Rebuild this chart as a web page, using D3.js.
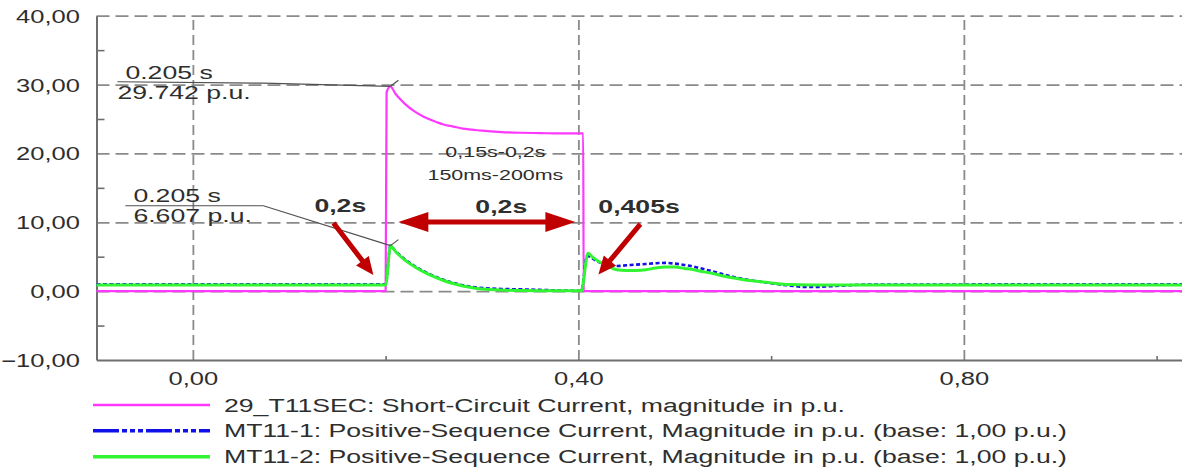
<!DOCTYPE html>
<html>
<head>
<meta charset="utf-8">
<script src="https://cdn.jsdelivr.net/npm/d3@7"></script>
<style>
  html, body { margin: 0; padding: 0; background: #fff; }
  svg { display: block; }
</style>
</head>
<body>
<svg id="chart" width="1182" height="469"></svg>
<script>
// ---- data -------------------------------------------------------------
const scPeak = { t: 0.205, v: 29.742 };
const mtPeak = { t: 0.205, v: 6.607 };

// 29_T11SEC short-circuit current magnitude (p.u.)
const timeSC = [-0.1, 0.2, 0.201, scPeak.t, 0.21, 0.215, 0.22, 0.23, 0.24, 0.25, 0.26, 0.27,
  0.28, 0.29, 0.30, 0.32, 0.34, 0.36, 0.38, 0.405, 0.4055, 1.03];
const shortCircuit = [0, 0, 28.9, scPeak.v, 28.7, 27.9, 27.2, 26.1, 25.3, 24.7, 24.2, 23.9,
  23.6, 23.45, 23.3, 23.1, 23.0, 22.95, 22.9, 22.9, 0, 0];

// MT11-1 positive-sequence current (p.u.)
const timeMT1 = [-0.1, 0.2, mtPeak.t, 0.21, 0.215, 0.22, 0.23, 0.24, 0.25, 0.26, 0.27, 0.28,
  0.29, 0.30, 0.32, 0.34, 0.36, 0.38, 0.40, 0.403, 0.409, 0.42, 0.43, 0.44, 0.45, 0.46, 0.47,
  0.48, 0.49, 0.50, 0.51, 0.52, 0.53, 0.54, 0.55, 0.56, 0.57, 0.58, 0.59, 0.60, 0.61, 0.62,
  0.63, 0.64, 0.65, 0.66, 0.68, 0.70, 1.03];
const mt11_1 = [1.0, 1.0, mtPeak.v, 5.85, 5.2, 4.6, 3.65, 2.85, 2.2, 1.65, 1.2, 0.85,
  0.6, 0.45, 0.32, 0.26, 0.18, 0.1, 0.05, 0.05, 5.1, 4.3, 3.8, 3.65, 3.75, 3.85, 3.95,
  4.05, 4.1, 4.0, 3.8, 3.55, 3.2, 2.85, 2.45, 2.1, 1.8, 1.55, 1.35, 1.15, 0.95, 0.8,
  0.65, 0.6, 0.62, 0.7, 0.85, 0.95, 1.0];

// MT11-2 positive-sequence current (p.u.)
const timeMT2 = [-0.1, 0.2, mtPeak.t, 0.21, 0.215, 0.22, 0.23, 0.24, 0.25, 0.26, 0.27, 0.28,
  0.29, 0.30, 0.32, 0.34, 0.36, 0.38, 0.40, 0.403, 0.41, 0.415, 0.42, 0.43, 0.44, 0.45, 0.46,
  0.47, 0.48, 0.49, 0.50, 0.51, 0.52, 0.53, 0.54, 0.55, 0.56, 0.57, 0.58, 0.59, 0.60, 0.61,
  0.62, 0.64, 0.66, 1.03];
const mt11_2 = [0.9, 0.9, mtPeak.v, 5.8, 5.1, 4.5, 3.55, 2.75, 2.1, 1.55, 1.1, 0.75,
  0.5, 0.32, 0.15, 0.08, 0.05, 0.04, 0.04, 0.04, 5.5, 4.9, 4.4, 3.7, 3.1, 3.0, 3.0,
  3.1, 3.35, 3.5, 3.5, 3.3, 3.1, 2.8, 2.55, 2.2, 1.95, 1.7, 1.5, 1.35, 1.2, 1.05,
  0.95, 0.88, 0.88, 0.9];

const legendLabels = [
  "29_T11SEC: Short-Circuit Current, magnitude in p.u.",
  "MT11-1: Positive-Sequence Current, Magnitude in p.u. (base: 1,00 p.u.)",
  "MT11-2: Positive-Sequence Current, Magnitude in p.u. (base: 1,00 p.u.)"
];

const yMajorTicks = [-10, 0, 10, 20, 30, 40];
const yMinorTicks = [-5, 5, 15, 25, 35];
const xMajorTicks = [0, 0.4, 0.8];
const xMinorTicks = [0.2, 0.6, 1.0];

// ---- layout -------------------------------------------------------------
const W = 1182, H = 469;
const SX = 1.48;                     // horizontal text stretch of this plot style
const SX_TICK = 1.42;                // tick numbers are drawn a little narrower
const FONT = '"Liberation Sans", Arial, Helvetica, sans-serif';
const TEXT = "#2e2e2e";
const GRID = "#8a8a8a";
const AXIS = "#6f6f6f";
const RED = "#c00000";

const svg = d3.select("#chart");
const x = d3.scaleLinear().domain([-0.1, 1.03]).range([96.5, 96.5 + 1.13 * 963.75]);
const y = d3.scaleLinear().domain([-10, 40]).range([360, 15.7]);
const fmt = v => d3.format(".2f")(v).replace(".", ",");

// gridlines
svg.append("g")
  .attr("transform", `translate(${x(-0.1)},0)`)
  .call(d3.axisLeft(y).tickValues(yMajorTicks.filter(d => d > -10)).tickSize(-(W - x(-0.1))).tickFormat(""))
  .call(g => g.select(".domain").remove())
  .call(g => g.selectAll("line").attr("stroke", GRID).attr("stroke-width", 1.8).attr("stroke-dasharray", "13,6"));

svg.append("g")
  .attr("transform", `translate(0,${y(-10)})`)
  .call(d3.axisBottom(x).tickValues(xMajorTicks).tickSize(-(y(-10) - y(40))).tickFormat(""))
  .call(g => g.select(".domain").remove())
  .call(g => g.selectAll("line").attr("stroke", GRID).attr("stroke-width", 1.8).attr("stroke-dasharray", "10,5"));

// axes
const yAxis = svg.append("g")
  .attr("transform", `translate(${x(-0.1)},0)`)
  .call(d3.axisLeft(y).tickValues(yMajorTicks).tickSize(0).tickSizeOuter(0).tickFormat(fmt));
yAxis.select(".domain").attr("stroke", AXIS).attr("stroke-width", 2);
yAxis.selectAll("text")
  .attr("x", -(x(-0.1) - 80) / SX_TICK).attr("dy", "0.36em")
  .attr("transform", `scale(${SX_TICK},1)`)
  .attr("fill", TEXT).style("font", `18px ${FONT}`);

svg.append("g")
  .attr("transform", `translate(${x(-0.1)},0)`)
  .call(d3.axisLeft(y).tickValues(yMinorTicks).tickSize(-8).tickFormat(""))
  .call(g => g.select(".domain").remove())
  .call(g => g.selectAll("line").attr("stroke", AXIS).attr("stroke-width", 1.6));

const xAxis = svg.append("g")
  .attr("transform", `translate(0,${y(-10)})`)
  .call(d3.axisBottom(x).tickValues(xMajorTicks).tickSize(0).tickSizeOuter(0).tickFormat(fmt));
xAxis.select(".domain").attr("stroke", AXIS).attr("stroke-width", 2);
xAxis.selectAll("text")
  .attr("y", 25).attr("dy", 0)
  .attr("transform", `scale(${SX_TICK},1)`)
  .attr("fill", TEXT).style("font", `18px ${FONT}`);

svg.append("g")
  .attr("transform", `translate(0,${y(-10)})`)
  .call(d3.axisBottom(x).tickValues(xMinorTicks).tickSize(-4).tickFormat(""))
  .call(g => g.select(".domain").remove())
  .call(g => g.selectAll("line").attr("stroke", AXIS).attr("stroke-width", 1.6));

// ---- curves -------------------------------------------------------------
const line = d3.line().x(d => x(d[0])).y(d => y(d[1])).curve(d3.curveMonotoneX);
const zip = (ts, vs) => ts.map((t, i) => [t, vs[i]]);

const series = [
  { data: zip(timeSC, shortCircuit), color: "#ff38ff", width: 2.2, dash: null },
  { data: zip(timeMT1, mt11_1), color: "#1010e8", width: 2.6, dash: "4,2.5" },
  { data: zip(timeMT2, mt11_2), color: "#30f530", width: 3, dash: null }
];

svg.append("g").selectAll("path").data(series).join("path")
  .attr("d", d => line(d.data))
  .attr("fill", "none")
  .attr("stroke", d => d.color)
  .attr("stroke-width", d => d.width)
  .attr("stroke-dasharray", d => d.dash)
  .attr("stroke-linejoin", "round");

// ---- annotations ---------------------------------------------------------
function label(parent, px, py, str, { size = 18, weight = "normal", anchor = "start" } = {}) {
  return parent.append("text")
    .attr("transform", `translate(${px},${py}) scale(${SX},1)`)
    .attr("text-anchor", anchor)
    .attr("fill", TEXT)
    .style("font", `${weight} ${size}px ${FONT}`)
    .text(str);
}

function arrowPoints(p1, p2, { shaft = 5, head = 18, headW = 16, both = false } = {}) {
  const [x1, y1] = p1, [x2, y2] = p2;
  const L = Math.hypot(x2 - x1, y2 - y1);
  const ux = (x2 - x1) / L, uy = (y2 - y1) / L, nx = -uy, ny = ux;
  const P = (s, n) => [x1 + ux * s + nx * n, y1 + uy * s + ny * n];
  const hs = shaft / 2, hw = headW / 2;
  return both
    ? [P(0, 0), P(head, hw), P(head, hs), P(L - head, hs), P(L - head, hw), P(L, 0),
       P(L - head, -hw), P(L - head, -hs), P(head, -hs), P(head, -hw)]
    : [P(0, hs), P(L - head, hs), P(L - head, hw), P(L, 0), P(L - head, -hw), P(L - head, -hs), P(0, -hs)];
}

const ann = svg.append("g");
const pt = d => [x(d[0]), y(d[1])];
const leader = d3.line().x(d => x(d[0])).y(d => y(d[1]));

// peak read-outs
const readouts = [
  { peak: scPeak, path: [[-0.0783, 30.41], [0.0732, 30.2]], time: [-0.070, 30.8], value: [-0.0783, 27.9], unitStr: scPeak.v.toFixed(3) + " p.u." },
  { peak: mtPeak, path: [[-0.070, 12.4], [0.0732, 12.4]], time: [-0.0617, 13.0], value: [-0.0617, 10.1], unitStr: mtPeak.v.toFixed(3) + " p.u." }
];
readouts.forEach(r => {
  const pk = [r.peak.t, r.peak.v];
  ann.append("path").attr("d", leader([...r.path, pk]))
    .attr("fill", "none").attr("stroke", "#505050").attr("stroke-width", 1.2);
  const [px, py] = pt(pk);
  ann.append("line").attr("x1", px).attr("y1", py).attr("x2", px + 8).attr("y2", py - 6)
    .attr("stroke", "#505050").attr("stroke-width", 1.2);
  label(ann, x(r.time[0]), y(r.time[1]), r.peak.t.toFixed(3) + " s");
  label(ann, x(r.value[0]), y(r.value[1]), r.unitStr);
});

// interval notes
label(ann, x(0.3139), y(19.55), "0,15s-0,2s", { size: 14.5, anchor: "middle" });
label(ann, x(0.3139), y(16.13), "150ms-200ms", { size: 14.5, anchor: "middle" });
label(ann, x(0.153), y(11.49), "0,2s", { weight: "bold", anchor: "middle" });
label(ann, x(0.320), y(11.34), "0,2s", { weight: "bold", anchor: "middle" });
label(ann, x(0.4207), y(11.34), "0,405s", { weight: "bold" });

// arrows
const arrows = [
  { from: [0.1459, 9.89], to: [0.1873, 2.34], opts: {} },
  { from: [0.2132, 10.05], to: [0.3969, 10.05], opts: { both: true, head: 30, headW: 20 } },
  { from: [0.4643, 9.74], to: [0.4208, 2.41], opts: {} }
];
ann.selectAll("polygon").data(arrows).join("polygon")
  .attr("points", d => arrowPoints(pt(d.from), pt(d.to), d.opts).map(p => p.join(",")).join(" "))
  .attr("fill", RED);

// ---- legend -------------------------------------------------------------
const legend = svg.append("g");
const legendDash = [null, "26,3,5,3,5,3,5,3", null];
const legendWidth = [2.6, 3.6, 3.6];
const rowY = [405, 430.7, 456.7];
series.forEach((s, i) => {
  legend.append("line")
    .attr("x1", 93).attr("x2", 210).attr("y1", rowY[i]).attr("y2", rowY[i])
    .attr("stroke", s.color).attr("stroke-width", legendWidth[i])
    .attr("stroke-dasharray", legendDash[i]);
  label(legend, 224, rowY[i] + 6.5, legendLabels[i]);
});
</script>
</body>
</html>
